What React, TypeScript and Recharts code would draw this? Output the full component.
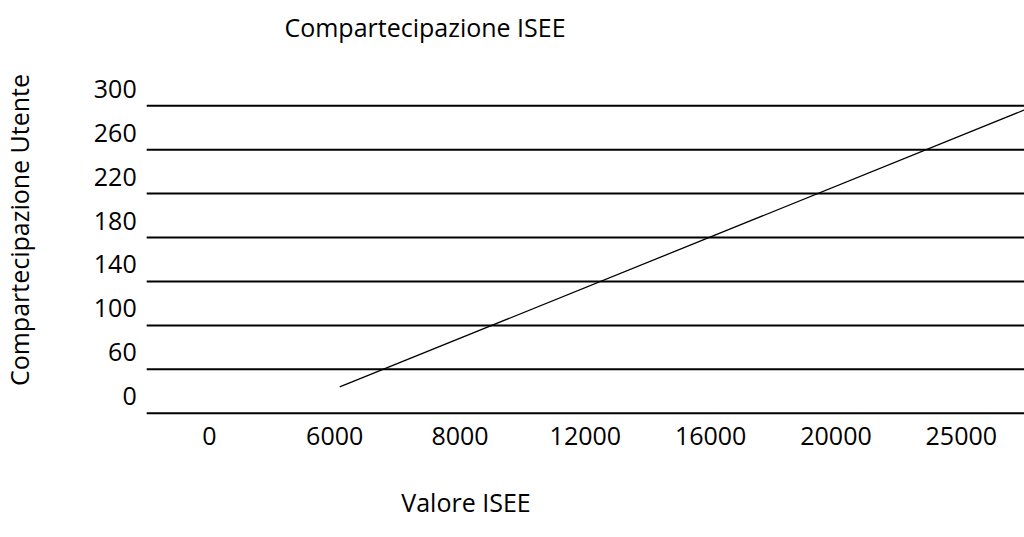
import { LineChart, Line, XAxis, YAxis, CartesianGrid } from 'recharts';

// tick labels as printed on the chart (both axes are evenly spaced slots)
const xCategories = ['0', '6000', '8000', '12000', '16000', '20000', '25000'];
const yCategories = ['0', '60', '100', '140', '180', '220', '260', '300'];

// line end points, in slot units of the two axes
const lineX = [1.04, 6.5];
const lineY = [0.6, 6.9];

const lineData = lineX.map((x, i) => ({ x, y: lineY[i] }));

const FONT = '"Open Sans", sans-serif';

const XTick = ({ x, y, payload }: any) => (
  <text x={x} y={y + 31.5} textAnchor="middle" fontSize={25} fontFamily={FONT} fill="#000">
    {xCategories[payload.value]}
  </text>
);

const YTick = ({ x, y, payload }: any) => (
  <text x={x} y={y - 8} textAnchor="end" fontSize={25} fontFamily={FONT} fill="#000">
    {yCategories[payload.value]}
  </text>
);

export default function App() {
  return (
    <div style={{ position: 'absolute', left: 0, top: 0, width: 1024, height: 537, background: '#fff' }}>
      <LineChart
        width={1024}
        height={537}
        data={lineData}
        margin={{ top: 105.7, right: 0, bottom: 63.7, left: 0 }}
      >
        <CartesianGrid horizontal vertical={false} stroke="#000" strokeWidth={2} />
        <XAxis
          dataKey="x"
          type="number"
          domain={[-0.5, xCategories.length - 0.5]}
          ticks={xCategories.map((_, i) => i)}
          interval={0}
          height={60}
          axisLine={false}
          tickLine={false}
          tickSize={0}
          tickMargin={0}
          tick={(props: any) => <XTick {...props} />}
        />
        <YAxis
          type="number"
          domain={[0, yCategories.length - 1]}
          ticks={yCategories.map((_, i) => i)}
          interval={0}
          width={146.7}
          axisLine={false}
          tickLine={false}
          tickSize={8}
          tickMargin={2}
          tick={(props: any) => <YTick {...props} />}
        />
        <Line
          type="linear"
          dataKey="y"
          stroke="#000"
          strokeWidth={1.3}
          dot={false}
          isAnimationActive={false}
        />
      </LineChart>
      <svg
        width={1024}
        height={537}
        style={{ position: 'absolute', left: 0, top: 0, pointerEvents: 'none' }}
      >
        <text x={425} y={37} textAnchor="middle" fontSize={25} fontFamily={FONT} fill="#000">
          Compartecipazione ISEE
        </text>
        <text x={466} y={512} textAnchor="middle" fontSize={25} fontFamily={FONT} fill="#000">
          Valore ISEE
        </text>
        <text
          x={29}
          y={230}
          transform="rotate(-90 29 230)"
          textAnchor="middle"
          fontSize={25}
          fontFamily={FONT}
          fill="#000"
        >
          Compartecipazione Utente
        </text>
      </svg>
    </div>
  );
}
